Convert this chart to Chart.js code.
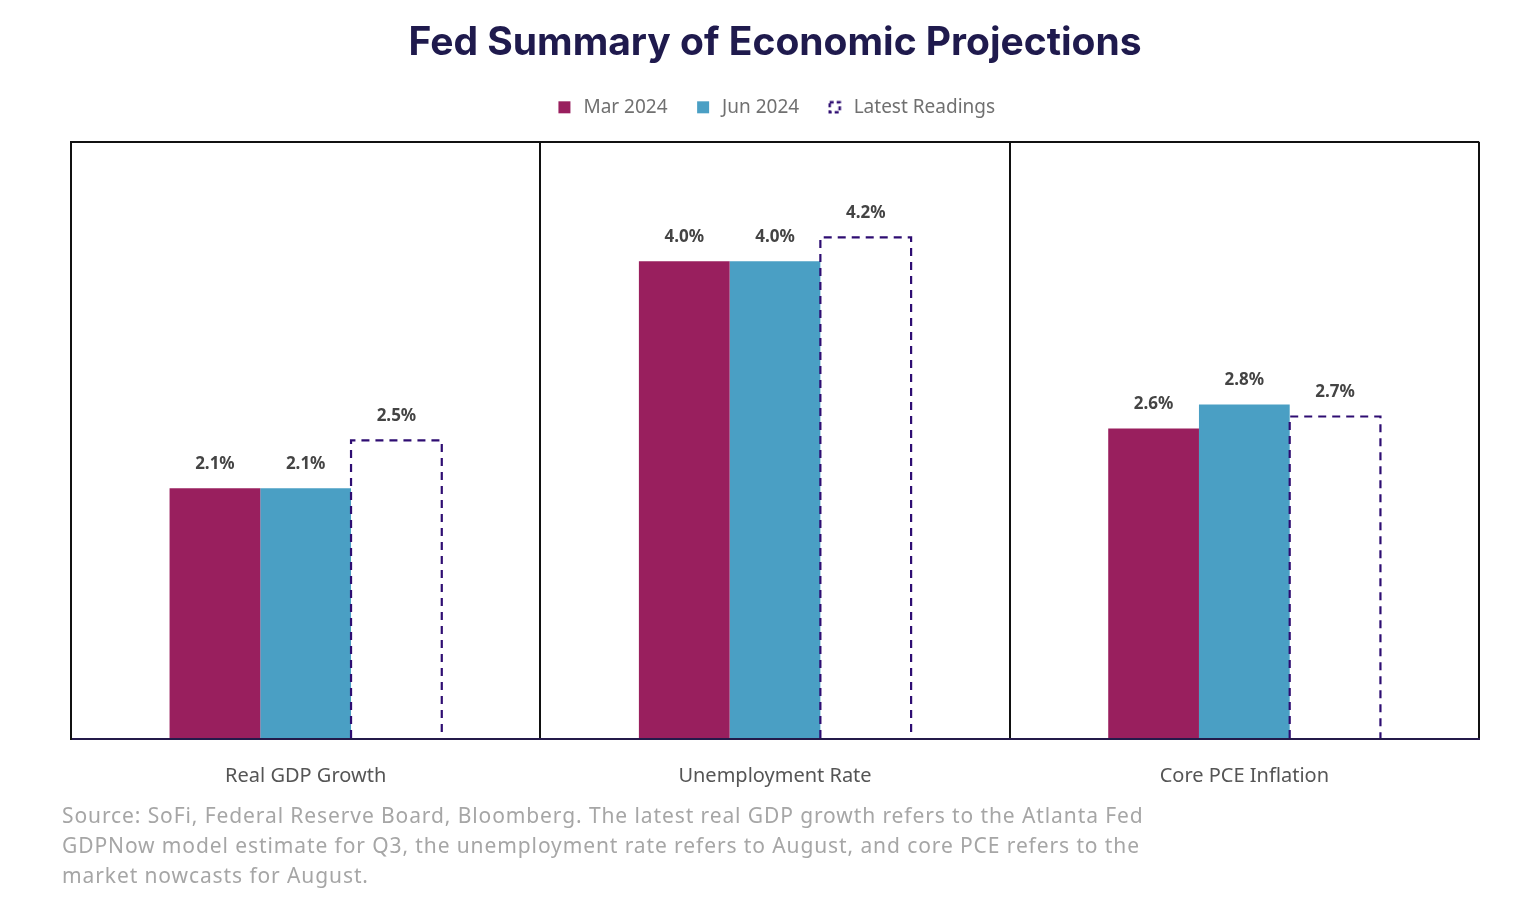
<!DOCTYPE html>
<html><head><meta charset="utf-8">
<script src="https://cdn.jsdelivr.net/npm/chart.js@4"></script>
<style>
html,body{margin:0;padding:0;background:#fff;}
#wrap{position:relative;width:1528px;height:916px;}
#note{position:absolute;left:62px;top:800px;width:1200px;font:21px "Noto Sans",sans-serif;letter-spacing:0.9px;color:#a6a6a6;line-height:30px;white-space:nowrap;}
</style></head>
<body><div id="wrap"><canvas id="c" width="1528" height="916"></canvas>
<div id="note">Source: SoFi, Federal Reserve Board, Bloomberg. The latest real GDP growth refers to the Atlanta Fed<br>GDPNow model estimate for Q3, the unemployment rate refers to August, and core PCE refers to the<br>market nowcasts for August.</div></div>
<script>
const categories = ["Real GDP Growth", "Unemployment Rate", "Core PCE Inflation"];
const mar2024 = [2.1, 4.0, 2.6];
const jun2024 = [2.1, 4.0, 2.8];
const latest = [2.5, 4.2, 2.7];
const seriesNames = ["Mar 2024", "Jun 2024", "Latest Readings"];

const C_MAR = "#991f5e", C_JUN = "#4a9fc4", C_DASH = "#2e0d72";
const FONT = '"Noto Sans", sans-serif';

function box(fill, dashed){
  const c = document.createElement('canvas'); c.width = 14; c.height = 14;
  const x = c.getContext('2d');
  if (dashed){
    x.strokeStyle = C_DASH; x.lineWidth = 2.5; x.setLineDash([4,3]);
    x.strokeRect(2,2,10,10);
  } else { x.fillStyle = fill; x.fillRect(1,1,12,12); }
  return c;
}
const legendIcons = [box(C_MAR), box(C_JUN), box(null, true)];

const legendMargin = {
  id: 'legendMargin',
  beforeInit(chart){
    const fit = chart.legend.fit;
    chart.legend.fit = function(){ fit.bind(chart.legend)(); this.height += 15; };
  }
};

const dashPlugin = {
  id: 'dashPlugin',
  afterDatasetsDraw(chart){
    const ctx = chart.ctx;
    const meta = chart.getDatasetMeta(2);
    ctx.save();
    ctx.strokeStyle = C_DASH; ctx.lineWidth = 2.2; ctx.setLineDash([8,6]);
    meta.data.forEach(b => {
      const l = b.x - b.width/2, r = b.x + b.width/2;
      ctx.beginPath();
      ctx.moveTo(l, b.base); ctx.lineTo(l, b.y); ctx.lineTo(r, b.y); ctx.lineTo(r, b.base);
      ctx.stroke();
    });
    ctx.restore();
    ctx.save();
    ctx.font = 'bold 17px ' + FONT;
    ctx.fillStyle = '#444'; ctx.textAlign = 'center'; ctx.textBaseline = 'middle';
    chart.data.datasets.forEach((ds, i) => {
      chart.getDatasetMeta(i).data.forEach((b, j) => {
        ctx.fillText(ds.data[j].toFixed(1) + '%', b.x, b.y - 24);
      });
    });
    ctx.restore();
  }
};

new Chart(document.getElementById('c'), {
  type: 'bar',
  data: {
    labels: categories,
    datasets: [
      {label: seriesNames[0], data: mar2024, backgroundColor: C_MAR},
      {label: seriesNames[1], data: jun2024, backgroundColor: C_JUN},
      {label: seriesNames[2], data: latest, backgroundColor: 'rgba(0,0,0,0)'}
    ]
  },
  options: {
    responsive: false, animation: false,
    datasets: {bar: {barPercentage: 1, categoryPercentage: 0.58, borderWidth: 0}},
    layout: {padding: {left: 71, right: 49, top: 20, bottom: 103}},
    plugins: {
      title: {display: true, text: 'Fed Summary of Economic Projections', color: '#1f1a4d',
        font: {family: 'Inter', size: 39, weight: 'bold'}, padding: {top: 0, bottom: 5}},
      legend: {display: true, labels: {usePointStyle: true, color: '#707070',
        font: {family: 'Noto Sans', size: 19}, padding: 26,
        generateLabels: (ch) => ch.data.datasets.map((d, i) => ({text: d.label, pointStyle: legendIcons[i], datasetIndex: i, fontColor: '#707070', lineWidth: 0, strokeStyle: 'transparent', fillStyle: 'transparent'}))}},
      tooltip: {enabled: false}
    },
    scales: {
      x: {grid: {offset: true, color: '#111', lineWidth: 2, drawTicks: false},
          border: {color: '#241a4a', width: 2},
          ticks: {color: '#555', font: {family: 'Noto Sans', size: 20}, padding: 25}},
      y: {min: 0, max: 5, ticks: {display: false, stepSize: 5},
          grid: {color: '#111', lineWidth: 2, drawTicks: false},
          border: {color: '#111', width: 2}}
    }
  },
  plugins: [legendMargin, dashPlugin]
});
</script></body></html>
